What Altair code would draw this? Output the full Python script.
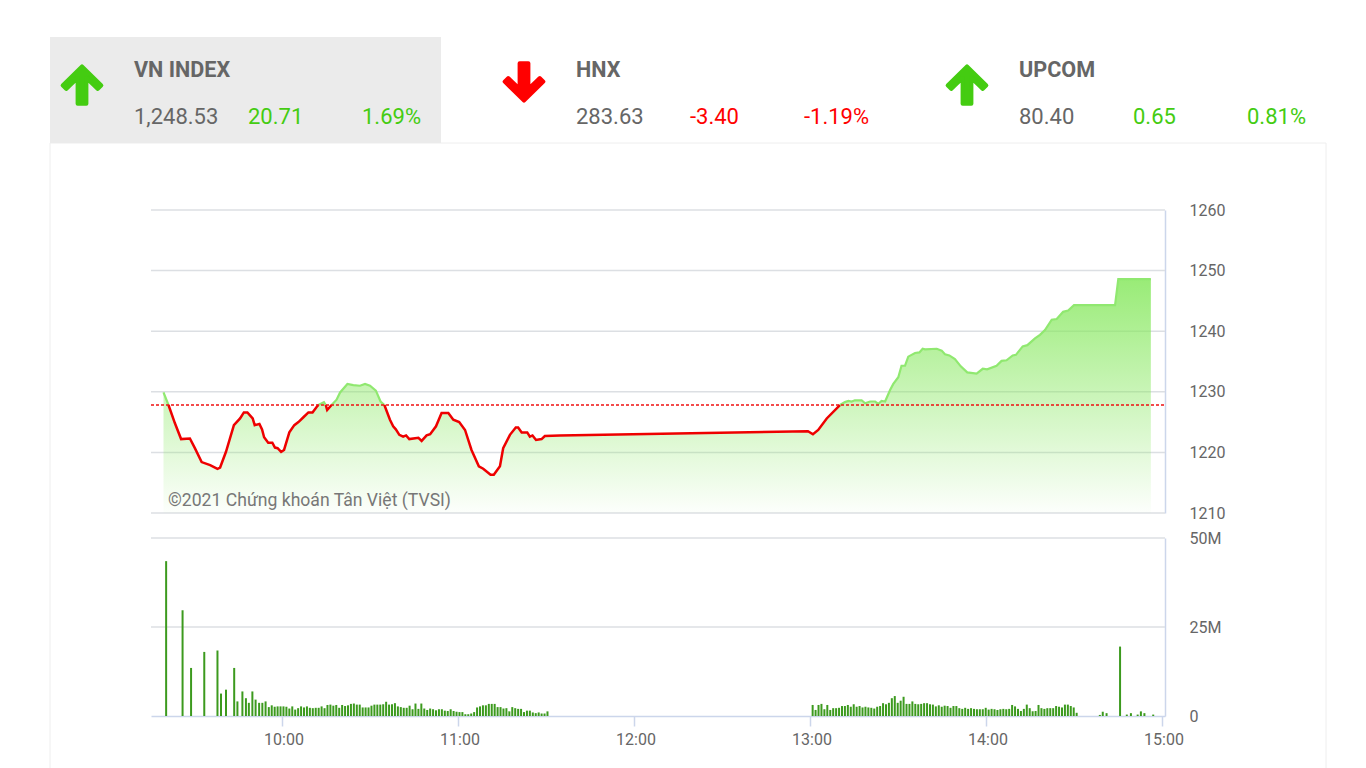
import altair as alt
import pandas as pd

FONT = "Roboto"
GREEN = "#44cc11"
RED = "#ff0000"
GREY = "#666666"

REF = 1227.82
X_DOMAIN = [555.34, 901.02]
X_RANGE = [143, 1157]

# index line, minutes since midnight and index value
price_t = [
    559.6, 561.3, 563.5, 565.6, 568.6, 570.3, 572.6, 575.5, 578.0, 578.9, 580.9, 583.6,
    585.7, 587.0, 588.2, 590.0, 590.7, 592.3, 593.2, 593.9, 595.3, 596.7, 597.6, 598.5,
    599.7, 600.7, 602.5, 604.2, 605.6, 607.3, 609.0, 610.4, 611.8, 612.4, 614.3, 614.9,
    615.4, 616.9, 618.6, 619.8, 622.3, 624.3, 626.6, 628.3, 630.0, 632.0, 633.6, 634.9,
    636.8, 637.9, 638.8, 640.0, 641.3, 642.3, 643.4, 646.5, 647.6, 649.3, 650.5, 652.5,
    654.4, 656.7, 658.4, 660.4, 662.4, 664.6, 667.1, 668.6, 671.1, 672.2, 674.3, 675.4,
    677.7, 679.7, 680.5, 681.7, 683.6, 684.5, 685.4, 686.6, 688.5, 689.6, 694.7, 779.3,
    781.0, 782.8, 785.7, 790.2, 791.9, 793.1, 794.2, 795.3, 797.6, 798.8, 800.5, 802.2,
    803.3, 804.4, 805.6, 807.3, 808.4, 810.1, 811.2, 812.4, 813.5, 815.8, 817.3, 818.4,
    819.2, 823.2, 824.9, 826.0, 827.5, 829.4, 831.4, 833.6, 836.8, 838.9, 840.4, 843.6,
    845.3, 847.0, 849.1, 850.2, 852.5, 854.1, 856.7, 858.4, 860.1, 862.4, 864.1, 866.3,
    868.0, 870.0, 884.0, 885.1, 896.2,
]
price_v = [
    1229.9, 1227.82, 1224.8, 1222.2, 1222.3, 1220.7, 1218.4, 1217.9, 1217.3, 1217.5, 1220.1, 1224.5,
    1225.6, 1226.6, 1226.6, 1225.6, 1224.5, 1224.7, 1223.8, 1222.5, 1221.6, 1221.6, 1220.8, 1220.7,
    1220.1, 1220.4, 1223.3, 1224.5, 1225.0, 1225.8, 1226.6, 1226.6, 1227.5, 1227.82, 1228.3, 1227.82,
    1227.0, 1227.82, 1228.7, 1229.9, 1231.3, 1231.1, 1231.0, 1231.3, 1231.0, 1230.2, 1228.4, 1227.82,
    1225.4, 1224.3, 1223.8, 1222.9, 1222.6, 1222.8, 1222.2, 1222.4, 1221.9, 1222.8, 1223.0, 1224.3,
    1226.5, 1226.5, 1225.4, 1225.0, 1223.7, 1220.4, 1217.7, 1217.3, 1216.3, 1216.3, 1217.7, 1220.7,
    1222.9, 1224.1, 1224.1, 1223.3, 1223.3, 1222.6, 1222.8, 1222.05, 1222.2, 1222.7, 1222.8, 1223.5,
    1223.0, 1223.7, 1225.6, 1227.82, 1228.3, 1228.5, 1228.4, 1228.6, 1228.6, 1228.1, 1228.4, 1228.4,
    1228.0, 1228.5, 1228.4, 1230.3, 1231.3, 1232.4, 1234.3, 1234.3, 1235.8, 1236.4, 1236.5, 1237.1,
    1237.0, 1237.1, 1236.8, 1236.2, 1236.0, 1235.4, 1234.2, 1233.2, 1233.0, 1233.8, 1233.7, 1234.3,
    1235.1, 1235.2, 1236.0, 1236.1, 1237.5, 1237.7, 1238.8, 1239.4, 1240.2, 1241.9, 1242.0, 1243.2,
    1243.4, 1244.3, 1244.3, 1248.6, 1248.6,
]

# volume in millions
open_t = [560.5, 566.1, 569.0, 573.5, 578.0, 579.2, 580.9, 583.7, 584.8, 586.5, 587.7, 588.7,
          589.9, 591.0, 592.2, 593.3, 594.4]
open_v = [43.5, 29.7, 13.5, 18.0, 18.4, 6.3, 7.4, 13.5, 4.1, 6.9, 5.0, 3.7, 6.9, 4.6, 3.7, 3.7, 4.1]

morning_start = 595.5
morning_v = [
    2.5, 3.0, 2.6, 2.7, 2.7, 2.7,
    2.6, 2.1, 2.7, 1.8, 2.2, 2.7, 2.4, 2.7, 2.3, 2.2,
    2.3, 2.3, 2.7, 2.2, 3.1, 3.2, 2.9, 3.1, 2.3, 3.1,
    2.8, 3.0, 3.4, 3.5, 3.2, 3.2, 2.4, 2.4, 2.4, 2.9,
    3.2, 3.2, 3.2, 3.3, 4.0, 3.2, 3.3, 3.6, 2.7, 2.5,
    2.3, 2.3, 2.9, 1.9, 3.5, 2.0, 3.5, 2.1, 1.7, 2.1,
    1.9, 1.6, 1.9, 1.9, 1.5, 1.4, 1.9, 1.4, 1.2, 1.1,
    1.1, 0.5, 0.5, 0.7, 1.1, 2.4, 2.7, 3.0, 3.0, 3.4,
    3.4, 3.4, 2.5, 2.5, 2.1, 2.2, 1.3, 2.5, 2.2, 2.0,
    2.0, 1.1, 1.5, 1.5, 1.0, 0.8, 1.0, 0.7, 0.7, 1.3,
]

afternoon_start = 780.9
afternoon_v = [
    3.1, 1.7, 3.1, 3.4, 1.9, 3.1, 1.7, 2.2, 2.2, 2.3,
    2.8, 2.8, 3.1, 2.6, 3.3, 2.6, 2.8, 2.4, 2.6, 2.4,
    2.3, 2.1, 2.6, 2.8, 3.6, 3.3, 3.7, 5.0, 5.6, 3.7,
    4.3, 5.4, 3.4, 3.4, 4.1, 3.4, 3.3, 3.4, 3.6, 3.6,
    3.3, 3.2, 2.7, 3.0, 2.6, 2.9, 2.8, 2.3, 2.8, 2.8,
    2.2, 2.0, 2.3, 2.0, 2.2, 2.0, 1.9, 1.9, 1.9, 2.3,
    1.8, 2.0, 1.9, 1.7, 1.9, 2.0, 1.9, 2.0, 3.1, 2.7,
    2.0, 1.4, 2.0, 3.2, 2.2, 1.3, 1.4, 3.1, 2.2, 2.0,
    2.2, 2.2, 2.2, 2.8, 2.6, 2.4, 3.2, 3.2, 2.8, 2.4, 0.9,
]

close_t = [878.8, 879.8, 881.1, 885.7, 888.0, 889.4, 891.7, 892.8, 894.0, 897.0]
close_v = [0.3, 1.2, 0.8, 19.5, 0.4, 0.8, 0.4, 1.3, 0.8, 0.4]

price_ticks = [1210, 1220, 1230, 1240, 1250, 1260]
volume_ticks = [0, 25, 50]
time_ticks = [600, 660, 720, 780, 840, 900]

index_names = ["VN INDEX", "HNX", "UPCOM"]
index_prices = ["1,248.53", "283.63", "80.40"]
index_changes = ["20.71", "-3.40", "0.65"]
index_pcts = ["1.69%", "-1.19%", "0.81%"]
index_colors = [GREEN, RED, GREEN]

ARROW_UP = "M0,-.85 L.88,.02 L.72,.18 L.2,-.32 L.2,.85 L-.2,.85 L-.2,-.32 L-.72,.18 L-.88,.02 Z"
ARROW_DOWN = "M0,.85 L.88,-.02 L.72,-.18 L.2,.32 L.2,-.85 L-.2,-.85 L-.2,.32 L-.72,-.18 L-.88,-.02 Z"

df = pd.DataFrame({"t": price_t, "v": price_v})
df["below"] = df["v"].where(df["v"] <= REF)
df["above"] = df["v"].where(df["v"] >= REF)

bars = pd.DataFrame({
    "t": open_t
    + [morning_start + i for i in range(len(morning_v))]
    + [afternoon_start + i for i in range(len(afternoon_v))]
    + close_t,
    "v": open_v + morning_v + afternoon_v + close_v,
})

one = pd.DataFrame({"a": [0]})
x_scale = alt.Scale(domain=X_DOMAIN, range=X_RANGE, padding=0)
price_scale = alt.Scale(domain=[1210, 1260], range=[505, 202])
volume_scale = alt.Scale(domain=[0, 50], range=[708, 530], padding=0)

# layers on one scale only keep their axis if they all ask for the same one
x_axis = alt.Axis(
    values=time_ticks, title=None, grid=False, tickSize=10, tickColor="#ccd6eb",
    tickWidth=1.5, domainColor="#ccd6eb", domainWidth=1.5,
    labelFont=FONT, labelFontSize=16, labelColor=GREY, labelPadding=5, labelOffset=1.5,
    labelExpr="floor(datum.value / 60) + ':00'",
)
price_axis = alt.Axis(
    values=price_ticks, orient="right", title=None, grid=False, ticks=False, format="d",
    labelFont=FONT, labelFontSize=16, labelColor=GREY, labelPadding=24,
    labelAlign="left", domainColor="#ccd6eb", domainWidth=1.5,
)
volume_axis = alt.Axis(
    values=volume_ticks, orient="right", title=None, grid=False, ticks=False,
    labelFont=FONT, labelFontSize=16, labelColor=GREY, labelPadding=24,
    labelAlign="left", domainColor="#ccd6eb", domainWidth=1.5,
    labelExpr="datum.value == 0 ? '0' : datum.value + 'M'",
)
base_x = alt.X("t:Q", scale=x_scale, axis=x_axis)


def label(text, x, y, size, color, weight="normal"):
    return alt.Chart(one).mark_text(
        text=text, font=FONT, fontSize=size, color=color, fontWeight=weight,
        align="left", baseline="alphabetic"
    ).encode(x=alt.value(x), y=alt.value(y))


def box_line(x, x2, y, y2):
    return alt.Chart(one).mark_rule(color="#eeeeee", strokeWidth=1).encode(
        x=alt.value(x), x2=alt.value(x2), y=alt.value(y), y2=alt.value(y2)
    )


def grid(ticks, scale, axis):
    data = pd.DataFrame({"y": ticks, "x0": X_DOMAIN[0], "x1": X_DOMAIN[1]})
    return alt.Chart(data).mark_rule(color="#dcdfe3", strokeWidth=1.5).encode(
        x=alt.X("x0:Q", scale=x_scale, axis=x_axis),
        x2="x1:Q",
        y=alt.Y("y:Q", scale=scale, axis=axis),
    )


# header and frame
frame = [
    box_line(42, 42, 135, 760),
    box_line(1318, 1318, 135, 760),
    box_line(42, 1318, 135, 135),
    alt.Chart(one).mark_rect(color="#ebebeb").encode(
        x=alt.value(42), x2=alt.value(433), y=alt.value(29), y2=alt.value(135)
    ),
]

header = []
for i, (hx, arrow_y, path) in enumerate(
    [(126, 77, ARROW_UP), (568, 74, ARROW_DOWN), (1011, 77, ARROW_UP)]
):
    col = index_colors[i]
    header.append(
        alt.Chart(one).mark_point(
            shape=path, size=1936, filled=True, color=col, stroke=col,
            strokeWidth=4, strokeJoin="round", opacity=1
        ).encode(x=alt.value(hx - 52), y=alt.value(arrow_y))
    )
    header.append(label(index_names[i], hx, 69, 21.6, GREY, "bold"))
    header.append(label(index_prices[i], hx, 116, 22, GREY))
    header.append(label(index_changes[i], hx + 114, 116, 22, col))
    header.append(label(index_pcts[i], hx + 228, 116, 22, col))

# price panel
area = alt.Chart(df).mark_area(
    color=alt.Gradient(
        gradient="linear", x1=0, y1=0, x2=0, y2=1,
        stops=[
            alt.GradientStop(color="rgba(135,232,95,0.85)", offset=0),
            alt.GradientStop(color="rgba(135,232,95,0.02)", offset=1),
        ],
    )
).encode(x=base_x, y=alt.Y("v:Q", scale=price_scale, axis=price_axis), y2=alt.datum(1210))

line_up = alt.Chart(df).mark_line(color="#90e870", strokeWidth=2.2).encode(
    x=base_x, y=alt.Y("above:Q", scale=price_scale, axis=price_axis)
)
line_down = alt.Chart(df).mark_line(color="#ee0000", strokeWidth=2.5).encode(
    x=base_x, y=alt.Y("below:Q", scale=price_scale, axis=price_axis)
)

ref_line = alt.Chart(
    pd.DataFrame({"y": [REF], "x0": X_DOMAIN[0], "x1": X_DOMAIN[1]})
).mark_rule(color="#ee1111", strokeWidth=1.5, strokeDash=[3, 2]).encode(
    x=alt.X("x0:Q", scale=x_scale, axis=x_axis),
    x2="x1:Q",
    y=alt.Y("y:Q", scale=price_scale, axis=price_axis),
)

price_panel = alt.layer(
    grid(price_ticks, price_scale, price_axis), area, line_up, line_down, ref_line
)

# volume panel
volume_bars = alt.Chart(bars).mark_bar(size=2, color="#3c9a1e").encode(
    x=base_x,
    y=alt.Y("v:Q", scale=volume_scale, axis=volume_axis),
)

volume_panel = alt.layer(grid(volume_ticks[1:], volume_scale, volume_axis), volume_bars)

copyright_text = label("©2021 Chứng khoán Tân Việt (TVSI)", 160, 498, 17.6, "#777777")

chart = alt.layer(
    *frame, *header, price_panel, copyright_text, volume_panel
).resolve_scale(y="independent").properties(
    width=X_RANGE[1], height=708, padding=0, background="white"
).configure_view(stroke=None)

chart.save("out.html", embed_options={"renderer": "svg", "actions": False})
